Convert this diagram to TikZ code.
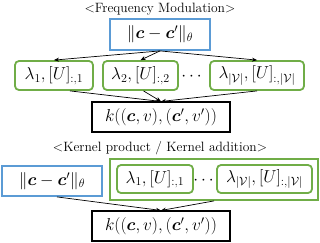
\documentclass[tikz,border=0pt]{standalone}
\usepackage{amsmath,amssymb,bm}
\usepackage{fontspec}
\usetikzlibrary{arrows.meta,calc}
\definecolor{bbox}{RGB}{91,155,213}
\definecolor{gbox}{RGB}{112,173,71}
\newcommand{\cc}{\bm{c}}
\newcommand{\vv}{\mathcal{V}}
\begin{document}
\begin{tikzpicture}[x=1pt,y=-1pt,
  title/.style={font=\fontsize{13.5}{15}\selectfont, inner sep=0pt},
  mth/.style={font=\fontsize{17}{19}\selectfont, inner sep=0pt},
  bluebox/.style={mth, draw=bbox, line width=1.8pt, minimum height=31pt},
  greenbox/.style={mth, draw=gbox, line width=1.8pt, rounded corners=4pt, minimum height=29pt},
  blackbox/.style={mth, draw=black, line width=1.1pt, minimum width=138pt, minimum height=30pt},
  arr/.style={-{Stealth[length=5pt,width=4pt]}, line width=0.7pt}]
\useasboundingbox (0,0) rectangle (320,242);
% top
\node[title] (t1) at (160,9) {<Frequency Modulation>};
\node[bluebox, minimum width=100pt] (b1) at (160,34.5) {$\|\cc-\cc'\|_\theta$};
\node[greenbox, minimum width=78pt] (g1) at (54,75.5) {$\lambda_1,[U]_{:,1}$};
\node[greenbox, minimum width=75pt] (g2) at (140.5,75.5) {$\lambda_2,[U]_{:,2}$};
\node[greenbox, minimum width=94pt] (g3) at (257,75.5) {$\lambda_{|\vv|},[U]_{:,|\vv|}$};
\node[mth] (d1) at (193,77) {$\cdots$};
\node[blackbox] (k1) at (161,117) {$k((\cc,v),(\cc',v'))$};
\draw[arr] (b1.south) -- (g1.north);
\draw[arr] (b1.south) -- (g2.north);
\draw[arr] (b1.south) -- (g3.north);
\draw[arr] ([xshift=16pt]g1.south) -- (k1.north);
\draw[arr] ([xshift=3pt]g2.south) -- (k1.north);
\draw[arr] (g3.south) -- (k1.north);
% bottom
\node[title] (t2) at (160,148) {<Kernel product / Kernel addition>};
\node[bluebox, minimum width=100pt, minimum height=30pt] (b2) at (52,181) {$\|\cc-\cc'\|_\theta$};
\node[draw=gbox, line width=1.8pt, minimum width=208pt, minimum height=41pt, inner sep=0pt] (G) at (214,179.5) {};
\node[greenbox, minimum width=76pt, minimum height=28pt] (h1) at (155,179) {$\lambda_1,[U]_{:,1}$};
\node[greenbox, minimum width=95pt, minimum height=28pt] (h2) at (264.5,179) {$\lambda_{|\vv|},[U]_{:,|\vv|}$};
\node[mth] (d2) at (205,181) {$\cdots$};
\node[blackbox] (k2) at (161,226) {$k((\cc,v),(\cc',v'))$};
\draw[arr] ([xshift=5pt]b2.south) -- (k2.north);
\draw[arr] (G.south) -- (k2.north);
\end{tikzpicture}
\end{document}
